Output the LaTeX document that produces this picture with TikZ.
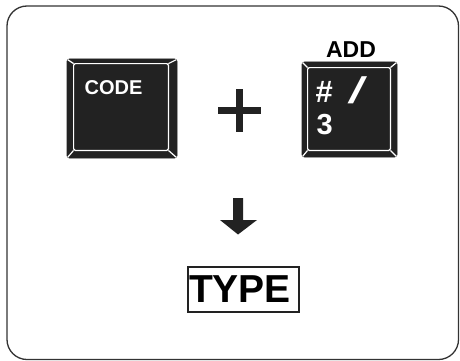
\documentclass[tikz,border=0pt]{standalone}
\usepackage{fontspec}
\setmainfont{Liberation Sans}
\usetikzlibrary{positioning,calc}
\definecolor{keyblack}{HTML}{222222}
\definecolor{frame}{HTML}{333333}

% bevel of a key: outer node, inner offsets left/top/right/bottom
\newcommand{\keybevel}[5]{%
  \coordinate (#1i1) at ($(#1.north west)+(#2,#3)$);
  \coordinate (#1i2) at ($(#1.north east)+(-#4,#3)$);
  \coordinate (#1i3) at ($(#1.south east)+(-#4,-#5)$);
  \coordinate (#1i4) at ($(#1.south west)+(#2,-#5)$);
  \draw[bevel,rounded corners=1.5pt] (#1i1) -- (#1i2) -- (#1i3) -- (#1i4) -- cycle;
  \draw[bevel] (#1.north west) ++(1,1) -- (#1i1);
  \draw[bevel] (#1.north east) ++(-1,1) -- (#1i2);
  \draw[bevel] (#1.south east) ++(-1,-1) -- (#1i3);
  \draw[bevel] (#1.south west) ++(1,-1) -- (#1i4);
}

\begin{document}
\begin{tikzpicture}[x=1pt,y=-1pt,
  key/.style={draw=keyblack,fill=keyblack,rounded corners=2.5pt,line width=0.8pt,inner sep=0pt},
  bevel/.style={draw=white,line width=1.2pt},
  keylab/.style={text=white,inner sep=0pt,anchor=base west},
  sym/.style={fill=keyblack}]
\useasboundingbox (0,0) rectangle (460,361);

%% frame
\draw[frame,line width=1.3pt,rounded corners=20pt] (7,6) rectangle (458.5,359.5);

%% keys
\node[key,minimum width=110pt,minimum height=99pt] (code) at (122,108.5) {};
\keybevel{code}{7}{5}{9}{8}
\node[keylab,font=\bfseries\fontsize{20}{20}\selectfont] (codetxt) at (84.5,94.5) {CODE};

\node[key,minimum width=95pt,minimum height=95pt] (add) at (349.5,109.5) {};
\keybevel{add}{6}{6}{7}{7}
\node[keylab,font=\bfseries\fontsize{31}{31}\selectfont] (hash) at (315.5,102) {\#};
\node[keylab,font=\fontsize{37}{37}\selectfont] (slash) at (347.5,103.5) {\scalebox{1.9}[1]{/}};
\node[keylab,font=\bfseries\fontsize{29}{29}\selectfont] (three) at (316.5,134.5) {3};
\node[font=\bfseries\fontsize{23}{23}\selectfont,inner sep=0pt,anchor=base] (addlab) at (351,57) {ADD};

%% plus
\fill[sym] (218,107) rectangle (261,114);
\fill[sym] (236,89) rectangle (243,132);

%% result
\node[draw=keyblack,line width=1.2pt,minimum width=111pt,minimum height=45pt,inner sep=0pt] (type) at (243.5,289.5) {};
\node[font=\bfseries\fontsize{39}{39}\selectfont,inner sep=0pt,anchor=base] (typetxt) at (240,302.5) {TYPE};

%% arrow
\fill[sym] (233,198) -- (243,198) -- (243,220) -- (257,220) -- (238,234.5) -- (220,220) -- (233,220) -- cycle;
\end{tikzpicture}
\end{document}
